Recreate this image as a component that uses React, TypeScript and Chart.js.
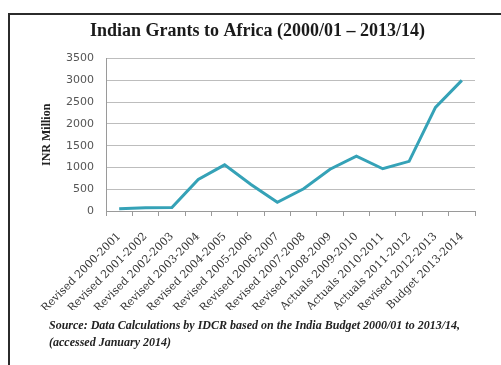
import React, { useEffect, useRef } from "react";
import { Chart, registerables } from "chart.js";

Chart.register(...registerables);

const TITLE = "Indian Grants to Africa (2000/01 \u2013 2013/14)";
const Y_TITLE = "INR Million";
const SOURCE_LINES = [
  "Source: Data Calculations by IDCR based on the India Budget 2000/01 to 2013/14,",
  "(accessed January 2014)",
];

const categories = [
  "Revised 2000-2001",
  "Revised 2001-2002",
  "Revised 2002-2003",
  "Revised 2003-2004",
  "Revised 2004-2005",
  "Revised 2005-2006",
  "Revised 2006-2007",
  "Revised 2007-2008",
  "Revised 2008-2009",
  "Actuals 2009-2010",
  "Actuals 2010-2011",
  "Actuals 2011-2012",
  "Revised 2012-2013",
  "Budget 2013-2014",
];

const grants = [50, 75, 80, 725, 1060, 610, 200, 510, 960, 1260, 970, 1140, 2380, 3000];

const Y_MIN = 0;
const Y_MAX = 3500;
const Y_STEP = 500;

const framePlugin = {
  id: "frame",
  beforeDraw(chart: any) {
    const ctx = chart.ctx;
    ctx.save();
    ctx.fillStyle = "#ffffff";
    ctx.fillRect(0, 0, chart.width, chart.height);
    ctx.fillStyle = "#2b2b2b";
    ctx.fillRect(8, 13, chart.width, 2);
    ctx.fillRect(8, 13, 2, chart.height);
    ctx.restore();
  },
  afterDraw(chart: any) {
    const ctx = chart.ctx;
    ctx.save();
    ctx.fillStyle = "#222222";
    ctx.font = "italic bold 12px 'Liberation Serif'";
    ctx.textBaseline = "alphabetic";
    ctx.textAlign = "left";
    ctx.fillText(SOURCE_LINES[0], 49, 329);
    ctx.fillText(SOURCE_LINES[1], 49, 346);
    ctx.restore();
  },
};

export default function App() {
  const ref = useRef<HTMLCanvasElement | null>(null);
  useEffect(() => {
    if (!ref.current) return;
    const chart = new Chart(ref.current, {
      type: "line",
      data: {
        labels: categories,
        datasets: [
          {
            data: grants,
            borderColor: "#35a2b7",
            borderWidth: 3,
            pointRadius: 0,
            tension: 0,
            fill: false,
          },
        ],
      },
      options: {
        responsive: false,
        animation: false,
        layout: { padding: { left: 40, right: 26, top: 0, bottom: 55 } },
        plugins: {
          legend: { display: false },
          tooltip: { enabled: false },
          title: {
            display: true,
            text: TITLE,
            color: "#1a1a1a",
            font: { family: "'Liberation Serif'", size: 18, weight: "bold" },
            padding: { top: 21, bottom: 16 },
          },
        },
        scales: {
          y: {
            min: Y_MIN,
            max: Y_MAX,
            ticks: {
              stepSize: Y_STEP,
              color: "#555555",
              font: { family: "'DejaVu Sans'", size: 11 },
              padding: 12,
              callback: (v: any) => String(v),
            },
            grid: { color: "#bdbdbd", lineWidth: 1, drawTicks: false },
            border: { color: "#9a9a9a" },
            title: {
              display: true,
              text: Y_TITLE,
              color: "#222222",
              font: { family: "'Liberation Serif'", size: 12, weight: "bold" },
              padding: 0,
            },
            afterFit: (s: any) => {
              s.width = 66;
            },
          },
          x: {
            offset: true,
            grid: {
              offset: true,
              drawOnChartArea: false,
              drawTicks: true,
              tickLength: 5,
              color: "#9a9a9a",
            },
            border: { color: "#9a9a9a" },
            ticks: {
              autoSkip: false,
              minRotation: 45,
              maxRotation: 45,
              color: "#333333",
              font: { family: "'DejaVu Serif'", size: 11 },
              padding: 14,
            },
            afterFit: (s: any) => {
              s.height = 99;
            },
          },
        },
      },
      plugins: [framePlugin],
    });
    return () => chart.destroy();
  }, []);
  return (
    <div style={{ position: "fixed", left: 0, top: 0, width: 501, height: 365 }}>
      <canvas ref={ref} width={501} height={365} />
    </div>
  );
}
